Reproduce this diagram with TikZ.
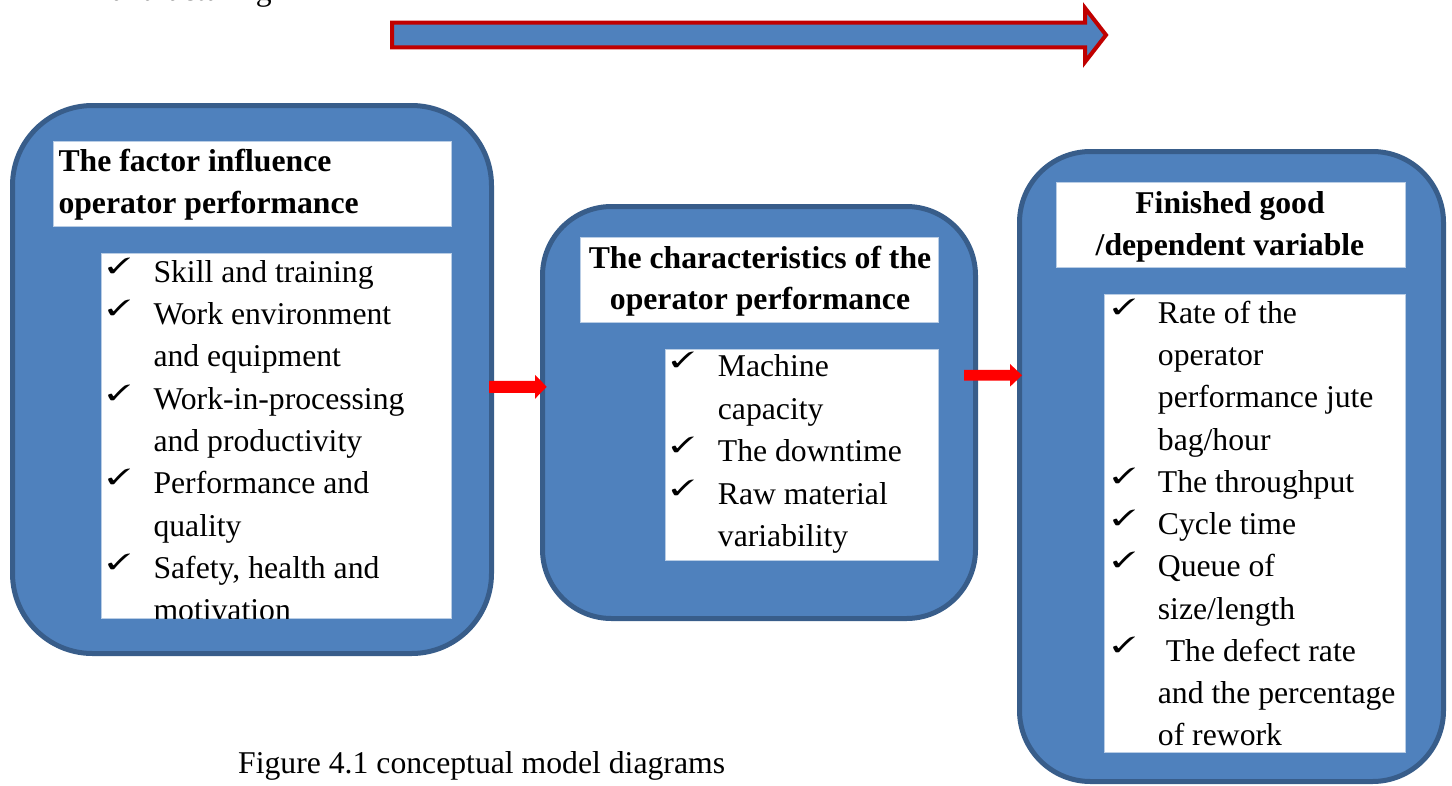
\documentclass[tikz,border=0pt]{standalone}
\usepackage{fontspec}
\setmainfont{Liberation Serif}
\usepackage{pifont}

\definecolor{panelblue}{HTML}{4F81BD}
\definecolor{paneledge}{HTML}{385D8A}
\definecolor{flowred}{HTML}{C00000}
\definecolor{linkred}{HTML}{FF0000}
\definecolor{cardedge}{HTML}{B9CDE5}

% calligraphic check mark used as list bullet
\newcommand{\chkmark}{\scalebox{1.45}[1]{\ding{51}}}
% block arrow: #1 style, #2 tail, #3 tip, #4 half shaft, #5 half head, #6 head length
\newcommand{\blockarrow}[6]{%
  \path[#1] ([yshift=#4]#2) -- ([xshift=-#6,yshift=#4]#3) -- ([xshift=-#6,yshift=#5]#3)
    -- (#3) -- ([xshift=-#6,yshift=-#5]#3) -- ([xshift=-#6,yshift=-#4]#3)
    -- ([yshift=-#4]#2) -- cycle;}

\begin{document}
\begin{tikzpicture}[x=1pt,y=-1pt,
  font=\fontsize{31.7}{38}\selectfont,
  panel/.style={draw=paneledge, line width=5pt, fill=panelblue, inner sep=0pt, outer sep=0pt},
  card/.style={fill=white, draw=cardedge, line width=1pt, inner sep=0pt, outer sep=0pt},
  headtext/.style={font=\fontsize{31.7}{38}\selectfont\bfseries, inner sep=0pt},
  itemtext/.style={anchor=base west, inner sep=0pt},
  chk/.style={anchor=base west, inner sep=0pt, font=\fontsize{22}{22}\selectfont},
  flowarrow/.style={draw=flowred, line width=4pt, fill=panelblue, line join=miter},
  linkarrow/.style={fill=linkred},
]
\clip (0,0) rectangle (1452,785);

% clipped line of running text above the figure
\node[anchor=base east, inner sep=0pt] (frag) at (272,0.3) {manufacturing};

% overall flow arrow
\coordinate (flowtail) at (392,35);
\coordinate (flowtip) at (1106,35);
\blockarrow{flowarrow}{flowtail}{flowtip}{12.3pt}{27pt}{21pt}

% the three panels
\node[panel, rounded corners=80, minimum width=479, minimum height=548] (p1) at (252,379.5) {};
\node[panel, rounded corners=69, minimum width=433, minimum height=412] (p2) at (759,412.5) {};
\node[panel, rounded corners=71, minimum width=424, minimum height=630] (p3) at (1231.5,466.5) {};

% links between the panels
\coordinate (l12tail) at ([xshift=-2.5pt]p1.east |- 0,386.8);
\coordinate (l12tip) at (546.7,386.8);
\blockarrow{linkarrow}{l12tail}{l12tip}{6pt}{12pt}{11.7pt}
\coordinate (l23tail) at (964,375.3);
\coordinate (l23tip) at ([xshift=2.5pt]p3.west |- 0,375.3);
\blockarrow{linkarrow}{l23tail}{l23tip}{5.35pt}{11.35pt}{12pt}

% title cards
\node[card, minimum width=398, minimum height=84.5] (t1) at (252,183.75) {};
\node[card, minimum width=358, minimum height=84.3] (t2) at (759,279.85) {};
\node[card, minimum width=349, minimum height=85] (t3) at (1230.5,224.5) {};

\node[headtext, anchor=base west] (h1a) at (58.3,171.7) {The factor influence};
\node[headtext, anchor=base west] (h1b) at (58.3,213) {operator performance};
\node[headtext, anchor=base] (h2a) at (760,268.3) {The characteristics of the};
\node[headtext, anchor=base] (h2b) at (760,309) {operator performance};
\node[headtext, anchor=base] (h3a) at (1230,213.3) {Finished good};
\node[headtext, anchor=base] (h3b) at (1230,255) {/dependent variable};

% list cards
\node[card, minimum width=350, minimum height=365.5] (l1) at (276,435.75) {};
\node[card, minimum width=273, minimum height=211.4] (l2) at (801.5,455) {};
\node[card, minimum width=301, minimum height=458] (l3) at (1254.5,523) {};

% factors
\begin{scope}
  \clip (l1.south west) rectangle (l1.north east);
  \foreach \t [count=\i] in {Skill and training, Work environment, and equipment,
      Work-in-processing, and productivity, Performance and, quality,
      {Safety, health and}, motivation}
    \node[itemtext] (a\i) at (153.3,282.3+42.3*\i-42.3) {\t};
  \foreach \r in {1,2,4,6,8}
    \node[chk] (ac\r) at (107,282.3+42.3*\r-51.3) {\chkmark};
\end{scope}

% characteristics
\foreach \t [count=\i] in {Machine, capacity, The downtime, Raw material, variability}
  \node[itemtext] (b\i) at (717.7,376.7+42.5*\i-42.5) {\t};
\foreach \r in {1,3,4}
  \node[chk] (bc\r) at (670.7,376.7+42.5*\r-51.5) {\chkmark};

% outcomes
\foreach \t [count=\i] in {Rate of the, operator, performance jute, bag/hour,
    The throughput, Cycle time, Queue of, size/length, \hspace*{7.9pt}The defect rate,
    and the percentage, of rework}
  \node[itemtext] (c\i) at (1157.7,323.3+42.25*\i-42.25) {\t};
\foreach \r in {1,5,6,7,9}
  \node[chk] (cc\r) at (1112,323.3+42.25*\r-51.25) {\chkmark};

% caption
\node[itemtext] (cap) at (238,773) {Figure 4.1 conceptual model diagrams};
\end{tikzpicture}
\end{document}
